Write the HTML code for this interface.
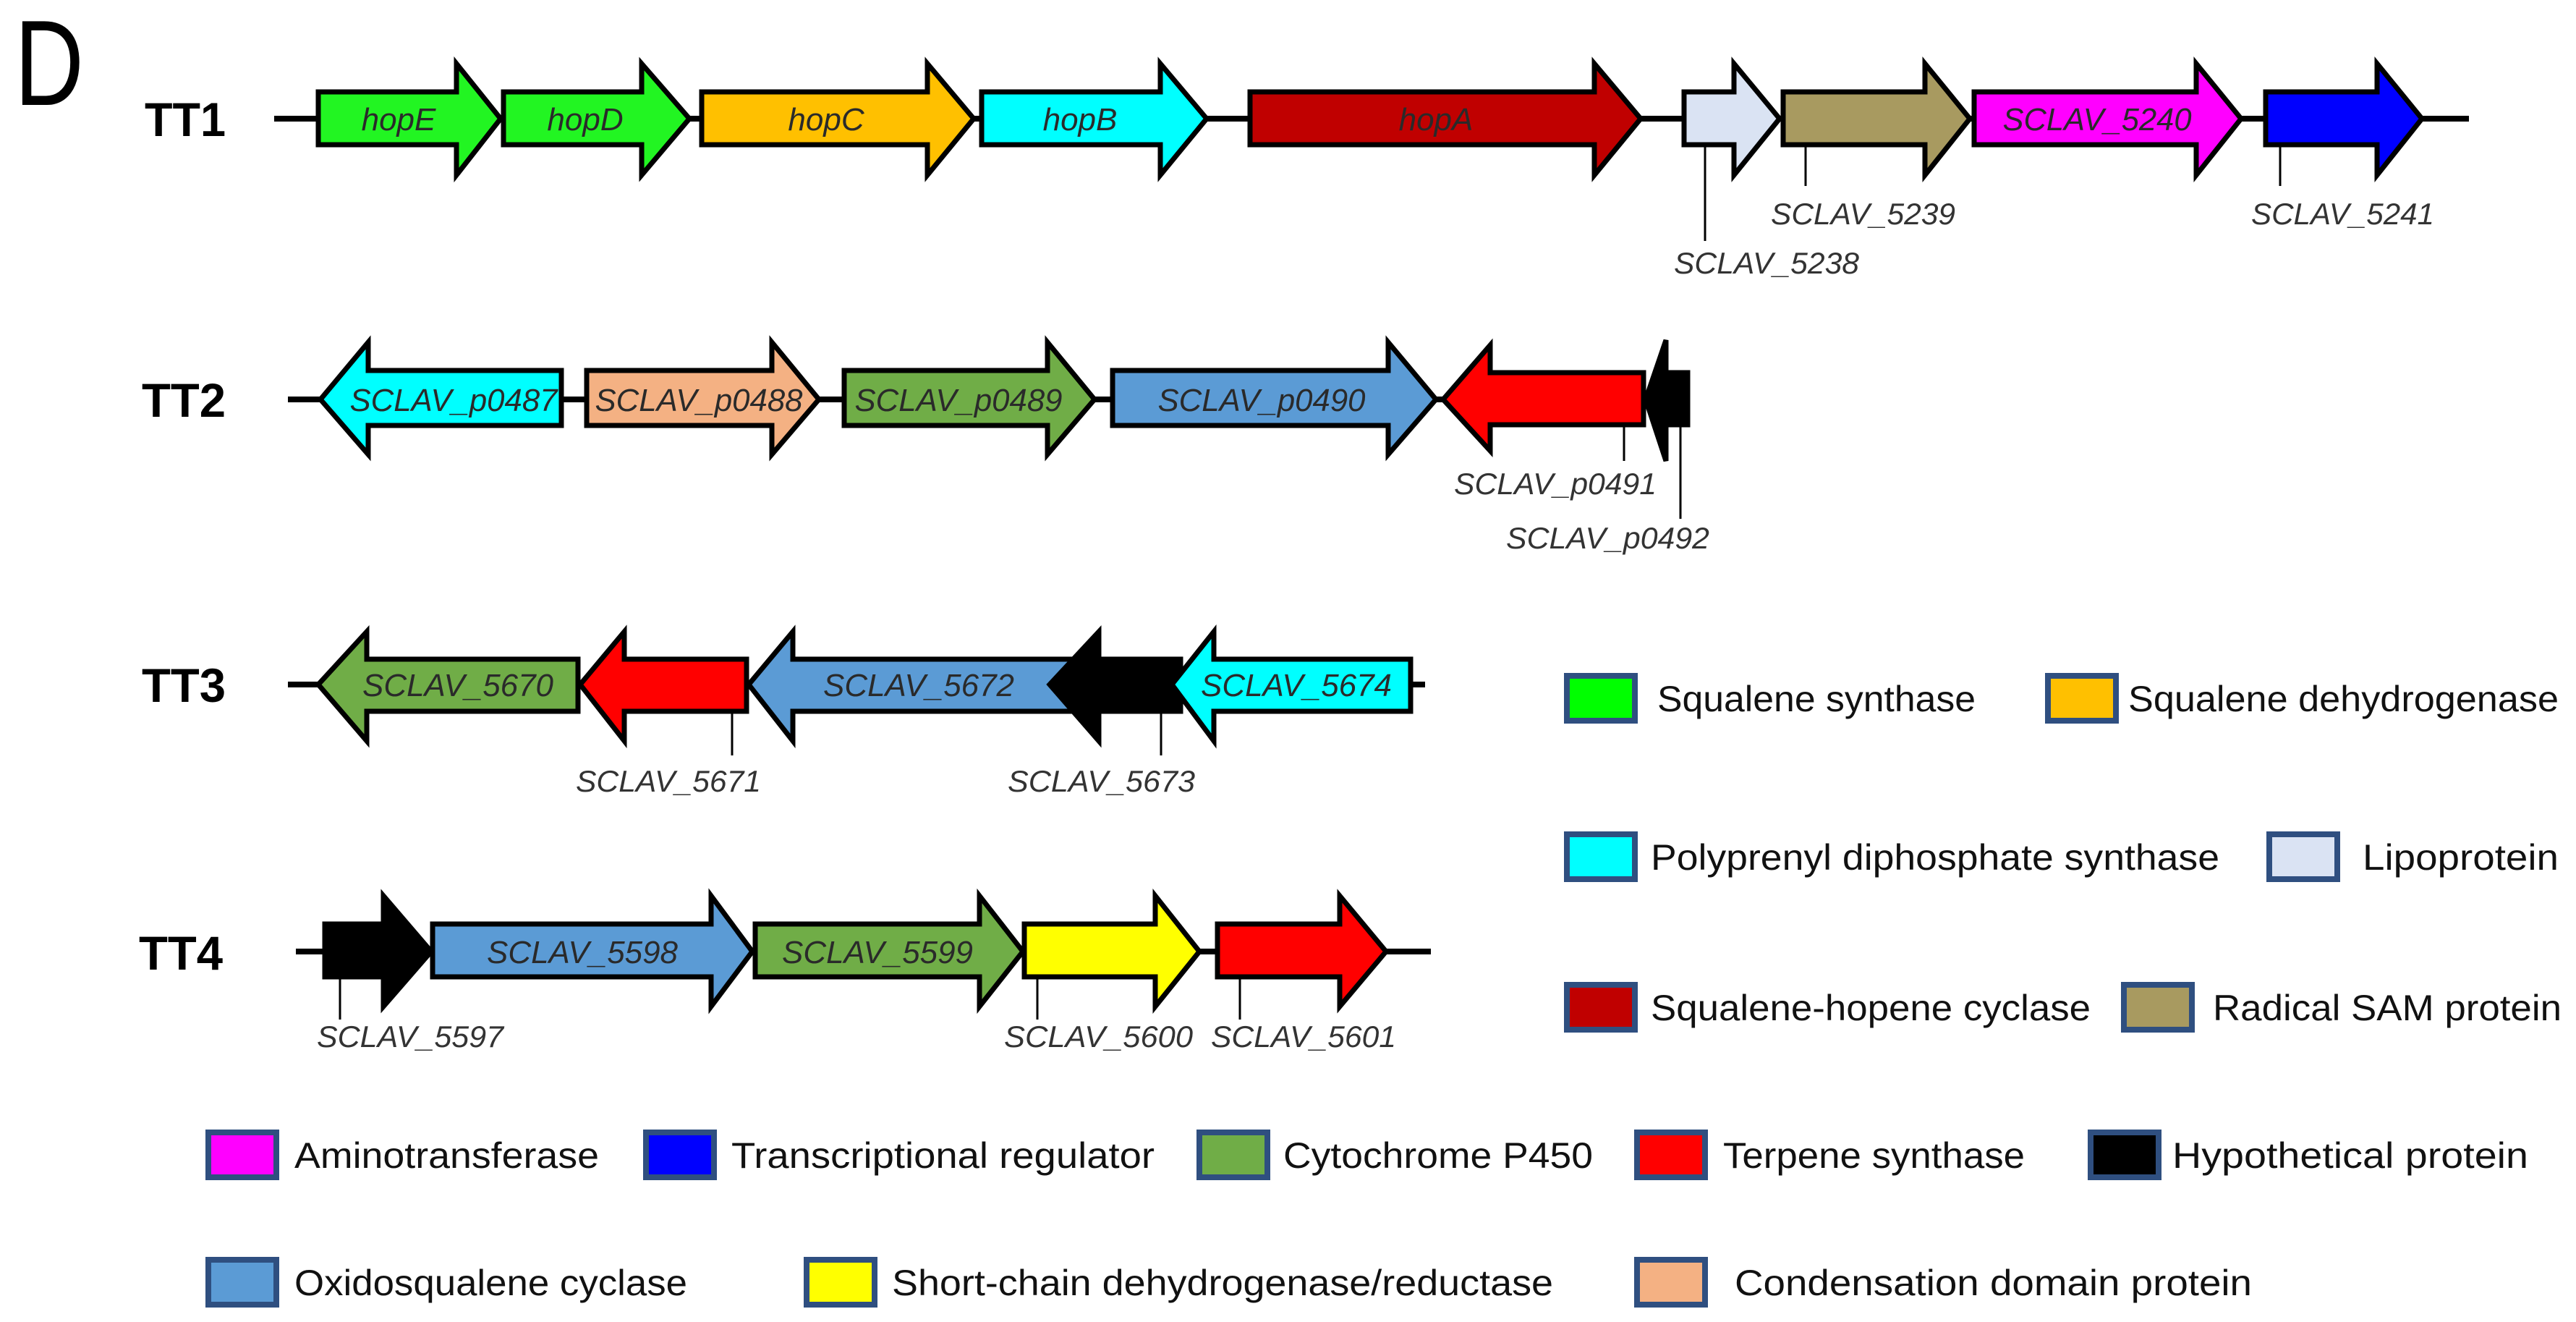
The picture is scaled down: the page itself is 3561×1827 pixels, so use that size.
<!DOCTYPE html>
<html><head><meta charset="utf-8"><style>
html,body{margin:0;padding:0;background:#fff;}
svg{display:block;}
.g{font-family:"Liberation Sans",sans-serif;font-style:italic;font-size:44px;fill:#2a2a2a;text-anchor:middle;}
.l{font-family:"Liberation Sans",sans-serif;font-style:italic;font-size:42px;fill:#333;}
.t{font-family:"Liberation Sans",sans-serif;font-weight:bold;font-size:66px;fill:#000;}
.lg{font-family:"Liberation Sans",sans-serif;font-size:50px;fill:#111;}
</style></head><body>
<svg width="3561" height="1827" viewBox="0 0 3561 1827" xmlns="http://www.w3.org/2000/svg">
<rect width="3561" height="1827" fill="#fff"/>
<text x="20" y="145" font-family="Liberation Sans,sans-serif" font-size="168" textLength="96" lengthAdjust="spacingAndGlyphs">D</text>

<!-- TT1 -->
<text class="t" x="200" y="188" textLength="112" lengthAdjust="spacingAndGlyphs">TT1</text>
<line x1="379" y1="164" x2="3413" y2="164" stroke="#000" stroke-width="8"/>
<g stroke="#000" stroke-width="7" stroke-linejoin="miter">
<polygon fill="#22f522" points="440,127 631,127 631,88 692,164 631,242 631,200 440,200"/>
<polygon fill="#22f522" points="696,127 887,127 887,88 953,164 887,242 887,200 696,200"/>
<polygon fill="#ffc000" points="970,127 1282,127 1282,88 1346,164 1282,242 1282,200 970,200"/>
<polygon fill="#00ffff" points="1357,127 1604,127 1604,88 1668,164 1604,242 1604,200 1357,200"/>
<polygon fill="#c00000" points="1728,127 2204,127 2204,88 2268,164 2204,242 2204,200 1728,200"/>
<polygon fill="#dae3f3" points="2328,127 2397,127 2397,88 2460,164 2397,242 2397,200 2328,200"/>
<polygon fill="#a89a60" points="2465,127 2661,127 2661,88 2723,164 2661,242 2661,200 2465,200"/>
<polygon fill="#ff00ff" points="2729,127 3036,127 3036,88 3098,164 3036,242 3036,200 2729,200"/>
<polygon fill="#0000ff" points="3132,127 3286,127 3286,88 3348,164 3286,242 3286,200 3132,200"/>
</g>
<text class="g" x="551" y="180">hopE</text>
<text class="g" x="809" y="180">hopD</text>
<text class="g" x="1142" y="180">hopC</text>
<text class="g" x="1493" y="180">hopB</text>
<text class="g" x="1985" y="180">hopA</text>
<text class="g" x="2899" y="180" textLength="261" lengthAdjust="spacingAndGlyphs">SCLAV_5240</text>
<g stroke="#000" stroke-width="3">
<line x1="2357" y1="200" x2="2357" y2="333"/>
<line x1="2496" y1="200" x2="2496" y2="257"/>
<line x1="3152" y1="200" x2="3152" y2="257"/>
</g>
<text class="l" x="2314" y="378" textLength="256" lengthAdjust="spacingAndGlyphs">SCLAV_5238</text>
<text class="l" x="2448" y="310" textLength="255" lengthAdjust="spacingAndGlyphs">SCLAV_5239</text>
<text class="l" x="3112" y="310" textLength="253" lengthAdjust="spacingAndGlyphs">SCLAV_5241</text>

<!-- TT2 -->
<text class="t" x="196" y="576" textLength="116" lengthAdjust="spacingAndGlyphs">TT2</text>
<line x1="398" y1="552" x2="2333" y2="552" stroke="#000" stroke-width="8"/>
<g stroke="#000" stroke-width="7">
<polygon fill="#00ffff" points="443,552 509,473 509,512 776,512 776,588 509,588 509,628"/>
<polygon fill="#f4b183" points="811,512 1067,512 1067,473 1132,552 1067,628 1067,588 811,588"/>
<polygon fill="#70ad47" points="1167,512 1448,512 1448,473 1513,552 1448,628 1448,588 1167,588"/>
<polygon fill="#5b9bd5" points="1538,512 1919,512 1919,473 1985,552 1919,628 1919,588 1538,588"/>
<polygon fill="#ff0000" points="1995,552 2060,477 2060,515 2272,515 2272,587 2060,587 2060,623"/>
<polygon fill="#000" points="2275,552 2303,470 2303,515 2333,515 2333,587 2303,587 2303,637"/>
</g>
<text class="g" x="627" y="568" textLength="287" lengthAdjust="spacingAndGlyphs">SCLAV_p0487</text>
<text class="g" x="966" y="568" textLength="287" lengthAdjust="spacingAndGlyphs">SCLAV_p0488</text>
<text class="g" x="1325" y="568" textLength="287" lengthAdjust="spacingAndGlyphs">SCLAV_p0489</text>
<text class="g" x="1744" y="568" textLength="287" lengthAdjust="spacingAndGlyphs">SCLAV_p0490</text>
<g stroke="#000" stroke-width="3">
<line x1="2245" y1="587" x2="2245" y2="637"/>
<line x1="2323" y1="587" x2="2323" y2="717"/>
</g>
<text class="l" x="2010" y="683" textLength="280" lengthAdjust="spacingAndGlyphs">SCLAV_p0491</text>
<text class="l" x="2082" y="758" textLength="281" lengthAdjust="spacingAndGlyphs">SCLAV_p0492</text>

<!-- TT3 -->
<text class="t" x="196" y="970" textLength="116" lengthAdjust="spacingAndGlyphs">TT3</text>
<line x1="398" y1="946" x2="1970" y2="946" stroke="#000" stroke-width="8"/>
<g stroke="#000" stroke-width="7">
<polygon fill="#70ad47" points="440,946 507,873 507,911 799,911 799,983 507,983 507,1024"/>
<polygon fill="#ff0000" points="802,946 863,873 863,911 1032,911 1032,983 863,983 863,1024"/>
<polygon fill="#5b9bd5" points="1035,946 1096,873 1096,911 1482,911 1482,983 1096,983 1096,1024"/>
<polygon fill="#000" points="1451,946 1519,873 1519,911 1632,911 1632,983 1519,983 1519,1024"/>
<polygon fill="#00ffff" points="1620,946 1678,873 1678,911 1950,911 1950,983 1678,983 1678,1024"/>
</g>
<text class="g" x="633" y="962" textLength="264" lengthAdjust="spacingAndGlyphs">SCLAV_5670</text>
<text class="g" x="1270" y="962" textLength="264" lengthAdjust="spacingAndGlyphs">SCLAV_5672</text>
<text class="g" x="1792" y="962" textLength="264" lengthAdjust="spacingAndGlyphs">SCLAV_5674</text>
<g stroke="#000" stroke-width="3">
<line x1="1012" y1="983" x2="1012" y2="1044"/>
<line x1="1605" y1="983" x2="1605" y2="1044"/>
</g>
<text class="l" x="796" y="1094" textLength="256" lengthAdjust="spacingAndGlyphs">SCLAV_5671</text>
<text class="l" x="1393" y="1094" textLength="259" lengthAdjust="spacingAndGlyphs">SCLAV_5673</text>

<!-- TT4 -->
<text class="t" x="192" y="1340" textLength="116" lengthAdjust="spacingAndGlyphs">TT4</text>
<line x1="409" y1="1315" x2="1978" y2="1315" stroke="#000" stroke-width="8"/>
<g stroke="#000" stroke-width="7">
<polygon fill="#000" points="449,1277 530,1277 530,1238 596,1315 530,1391 530,1350 449,1350"/>
<polygon fill="#5b9bd5" points="598,1277 983,1277 983,1238 1040,1315 983,1391 983,1350 598,1350"/>
<polygon fill="#70ad47" points="1044,1277 1354,1277 1354,1238 1414,1315 1354,1391 1354,1350 1044,1350"/>
<polygon fill="#ffff00" points="1416,1277 1597,1277 1597,1238 1658,1315 1597,1391 1597,1350 1416,1350"/>
<polygon fill="#ff0000" points="1683,1277 1852,1277 1852,1238 1916,1315 1852,1391 1852,1350 1683,1350"/>
</g>
<text class="g" x="805" y="1331" textLength="264" lengthAdjust="spacingAndGlyphs">SCLAV_5598</text>
<text class="g" x="1213" y="1331" textLength="264" lengthAdjust="spacingAndGlyphs">SCLAV_5599</text>
<g stroke="#000" stroke-width="3">
<line x1="470" y1="1350" x2="470" y2="1409"/>
<line x1="1434" y1="1350" x2="1434" y2="1409"/>
<line x1="1714" y1="1350" x2="1714" y2="1409"/>
</g>
<text class="l" x="438" y="1447" textLength="258" lengthAdjust="spacingAndGlyphs">SCLAV_5597</text>
<text class="l" x="1388" y="1447" textLength="261" lengthAdjust="spacingAndGlyphs">SCLAV_5600</text>
<text class="l" x="1674" y="1447" textLength="256" lengthAdjust="spacingAndGlyphs">SCLAV_5601</text>

<!-- Legend -->
<g stroke="#2f4f80" stroke-width="8">
<rect x="2166" y="934" width="94" height="62" fill="#00ff00"/>
<rect x="2831" y="934" width="94" height="62" fill="#ffc000"/>
<rect x="2166" y="1153" width="94" height="62" fill="#00ffff"/>
<rect x="3137" y="1153" width="94" height="62" fill="#dae3f3"/>
<rect x="2166" y="1361" width="94" height="62" fill="#c00000"/>
<rect x="2936" y="1361" width="94" height="62" fill="#a89a60"/>
<rect x="288" y="1565" width="94" height="62" fill="#ff00ff"/>
<rect x="893" y="1565" width="94" height="62" fill="#0000ff"/>
<rect x="1658" y="1565" width="94" height="62" fill="#70ad47"/>
<rect x="2263" y="1565" width="94" height="62" fill="#ff0000"/>
<rect x="2890" y="1565" width="94" height="62" fill="#000"/>
<rect x="288" y="1741" width="94" height="62" fill="#5b9bd5"/>
<rect x="1115" y="1741" width="94" height="62" fill="#ffff00"/>
<rect x="2263" y="1741" width="94" height="62" fill="#f4b183"/>
</g>
<text class="lg" x="2291" y="983" textLength="440" lengthAdjust="spacingAndGlyphs">Squalene synthase</text>
<text class="lg" x="2942" y="983" textLength="595" lengthAdjust="spacingAndGlyphs">Squalene dehydrogenase</text>
<text class="lg" x="2282" y="1202" textLength="786" lengthAdjust="spacingAndGlyphs">Polyprenyl diphosphate synthase</text>
<text class="lg" x="3266" y="1202" textLength="271" lengthAdjust="spacingAndGlyphs">Lipoprotein</text>
<text class="lg" x="2282" y="1410" textLength="608" lengthAdjust="spacingAndGlyphs">Squalene-hopene  cyclase</text>
<text class="lg" x="3059" y="1410" textLength="482" lengthAdjust="spacingAndGlyphs">Radical SAM protein</text>
<text class="lg" x="407" y="1614" textLength="421" lengthAdjust="spacingAndGlyphs">Aminotransferase</text>
<text class="lg" x="1011" y="1614" textLength="585" lengthAdjust="spacingAndGlyphs">Transcriptional regulator</text>
<text class="lg" x="1774" y="1614" textLength="428" lengthAdjust="spacingAndGlyphs">Cytochrome P450</text>
<text class="lg" x="2382" y="1614" textLength="417" lengthAdjust="spacingAndGlyphs">Terpene synthase</text>
<text class="lg" x="3003" y="1614" textLength="492" lengthAdjust="spacingAndGlyphs">Hypothetical protein</text>
<text class="lg" x="407" y="1790" textLength="543" lengthAdjust="spacingAndGlyphs">Oxidosqualene cyclase</text>
<text class="lg" x="1233" y="1790" textLength="914" lengthAdjust="spacingAndGlyphs">Short-chain dehydrogenase/reductase</text>
<text class="lg" x="2398" y="1790" textLength="715" lengthAdjust="spacingAndGlyphs">Condensation domain protein</text>
</svg>
</body></html>
